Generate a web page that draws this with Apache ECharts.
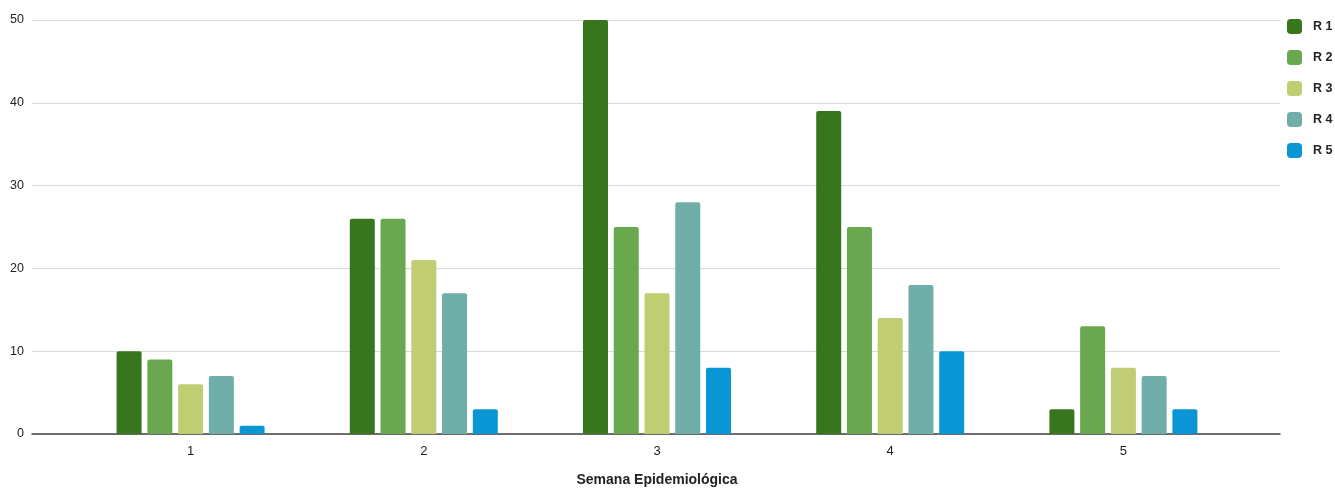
<!DOCTYPE html>
<html>
<head>
<meta charset="utf-8">
<script src="https://cdn.jsdelivr.net/npm/echarts@6/dist/echarts.min.js"></script>
<style>html,body{margin:0;padding:0;background:#fff;}#c{width:1335px;height:488px;}</style>
</head>
<body>
<div id="c"></div>
<script>
const categories = ['1', '2', '3', '4', '5'];
const seriesNames = ['R 1', 'R 2', 'R 3', 'R 4', 'R 5'];
const r1 = [10, 26, 50, 39, 3];
const r2 = [9, 26, 25, 25, 13];
const r3 = [6, 21, 17, 14, 8];
const r4 = [7, 17, 28, 18, 7];
const r5 = [1, 3, 8, 10, 3];
const yTicks = [0, 10, 20, 30, 40, 50];
const colors = ['#38761d', '#6aa84f', '#c0cd72', '#70aea9', '#0a96d5'];
const values = [r1, r2, r3, r4, r5];

const chart = echarts.init(document.getElementById('c'));
const font = 'Liberation Sans, Arial, sans-serif';
chart.setOption({
  animation: false,
  textStyle: { fontFamily: font },
  legend: {
    orient: 'vertical', left: 1287, top: 19, padding: 0,
    itemWidth: 15, itemHeight: 15, itemGap: 16,
    icon: 'roundRect',
    textStyle: { fontWeight: 'bold', fontSize: 12.5, color: '#222', fontFamily: font, padding: [0, 0, 0, 6] },
    data: seriesNames
  },
  grid: [
    { left: 74, right: 95, top: 20, bottom: 54, outerBoundsMode: 'none', containLabel: false },
    { left: 32, right: 55, top: 20, bottom: 54, outerBoundsMode: 'none', containLabel: false }
  ],
  xAxis: [
    {
      type: 'category', gridIndex: 0, data: categories,
      axisLine: { show: false }, axisTick: { show: false },
      axisLabel: { fontSize: 13, color: '#222', margin: 11, fontFamily: font },
      name: 'Semana Epidemiológica', nameLocation: 'middle', nameGap: 39,
      nameTextStyle: { fontWeight: 'bold', fontSize: 14, color: '#222', fontFamily: font }
    },
    {
      type: 'value', gridIndex: 1, min: 0, max: 1,
      axisLine: { show: true, lineStyle: { color: '#444', width: 1.5 } },
      axisTick: { show: false }, axisLabel: { show: false }, splitLine: { show: false }
    }
  ],
  yAxis: [
    {
      type: 'value', gridIndex: 0, min: yTicks[0], max: yTicks[yTicks.length - 1], interval: 10,
      axisLine: { show: false }, axisTick: { show: false }, axisLabel: { show: false },
      splitLine: { show: false }
    },
    {
      type: 'value', gridIndex: 1, min: yTicks[0], max: yTicks[yTicks.length - 1], interval: 10,
      axisLine: { show: false }, axisTick: { show: false },
      axisLabel: { fontSize: 12.5, color: '#222', margin: 8, fontFamily: font },
      splitLine: { show: true, lineStyle: { color: '#d9d9d9', width: 1 } }
    }
  ],
  series: seriesNames.map((n, i) => ({
    name: n, type: 'bar', xAxisIndex: 0, yAxisIndex: 0,
    data: values[i], barWidth: 25, barGap: '23%',
    itemStyle: { color: colors[i], borderRadius: [2, 2, 0, 0] },
    z: 3
  }))
});
</script>
</body>
</html>
